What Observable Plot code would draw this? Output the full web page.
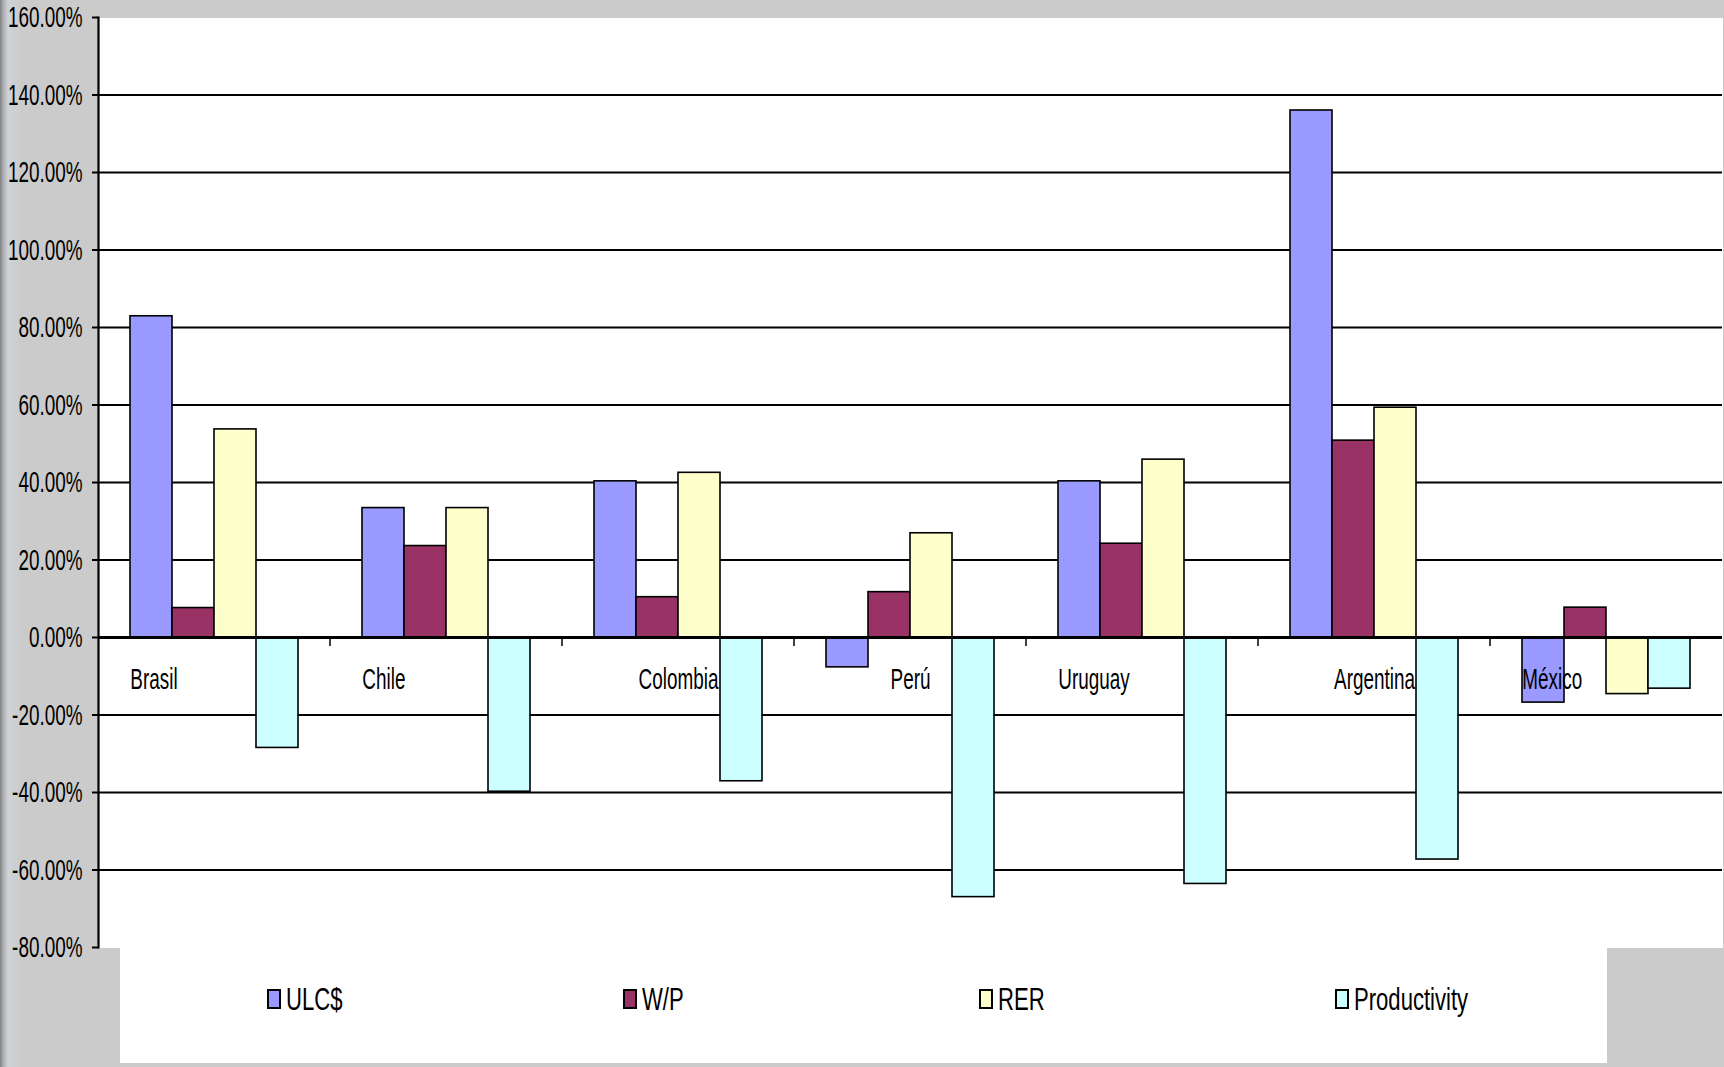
<!DOCTYPE html>
<html>
<head>
<meta charset="utf-8">
<script src="https://cdn.jsdelivr.net/npm/d3@7"></script>
<script src="https://cdn.jsdelivr.net/npm/@observablehq/plot@0.6"></script>
<style>
  html, body { margin: 0; padding: 0; }
  body {
    width: 1724px; height: 1067px; overflow: hidden;
    background: linear-gradient(to right, #7f7f7f 0px, #a8abaf 3px, #cfd3d8 8px, #cbcbcb 22px, #cbcbcb 100%);
    font-family: "Liberation Sans", Arial, sans-serif;
  }
  #chart svg { display: block; overflow: visible; }
  #legend {
    margin-left: 120px; width: 1487px; height: 116px; background: #fff;
    display: flex; align-items: center; padding-left: 147px; padding-bottom: 12px;
    box-sizing: border-box;
  }
  .item { width: 356px; flex: none; display: flex; align-items: center; }
  .swatch { width: 10px; height: 16px; border: 2px solid #000; flex: none; }
  .label {
    display: inline-block; font-size: 32px; color: #000; margin-left: 5px;
    transform: scaleX(0.69); transform-origin: left center; white-space: nowrap;
  }
</style>
</head>
<body>
<div id="chart"></div>
<div id="legend"></div>
<script>
// Countries along the x axis and the four series, in percent change
const countries = ["Brasil", "Chile", "Colombia", "Perú", "Uruguay", "Argentina", "México"];
const seriesNames = ["ULC$", "W/P", "RER", "Productivity"];
const ulc = [82.9, 33.4, 40.3, -7.7, 40.3, 136.0, -16.8];
const wp = [7.6, 23.6, 10.4, 11.7, 24.2, 50.8, 7.7];
const rer = [53.7, 33.4, 42.5, 26.9, 45.9, 59.3, -14.6];
const productivity = [-28.5, -39.8, -37.1, -67.0, -63.6, -57.3, -13.2];
const yTicks = [-80, -60, -40, -20, 0, 20, 40, 60, 80, 100, 120, 140, 160];

const seriesColors = ["#9999ff", "#993366", "#ffffcc", "#ccffff"];
const TEXT_SQUEEZE = 0.63;

const seriesValues = [ulc, wp, rer, productivity];
const rows = countries.flatMap((country, i) =>
  seriesNames.map((series, j) => ({country, series, value: seriesValues[j][i]}))
);

const width = 1724, height = 947;
const marginLeft = 95, marginRight = 0, marginTop = 17, marginBottom = 0;
const groupPadding = 0.75; // outer padding of each country group, in bar widths

// Some category labels sit flush with the group's first bar, the rest are centred
const leftAlignedLabels = new Set(["Brasil", "Chile", "Uruguay", "México"]);
const groupWidth = (width - marginLeft - marginRight) / countries.length;
const barWidth = groupWidth / (seriesNames.length + 2 * groupPadding);

const plot = Plot.plot({
  width, height, marginLeft, marginRight, marginTop, marginBottom,
  style: {
    fontFamily: "'Liberation Sans', Arial, sans-serif",
    fontSize: "30px",
    color: "black",
    background: "transparent",
    overflow: "visible"
  },
  fx: {domain: countries, padding: 0, axis: null, label: null},
  x: {domain: seriesNames, paddingInner: 0, paddingOuter: groupPadding, axis: null, label: null},
  y: {domain: [yTicks[0], yTicks[yTicks.length - 1]], axis: null, label: null},
  color: {domain: seriesNames, range: seriesColors},
  marks: [
    Plot.frame({fill: "white", stroke: "none", shapeRendering: "crispEdges"}),
    Plot.ruleY(yTicks.slice(1, -1).filter((v) => v !== 0), {stroke: "black", strokeWidth: 2.2}),
    Plot.barY(rows, {
      fx: "country", x: "series", y: "value",
      fill: "series", stroke: "black", strokeWidth: 1.6
    }),
    Plot.ruleY([0], {stroke: "black", strokeWidth: 3}),
    Plot.text(countries.filter((c) => !leftAlignedLabels.has(c)), {
      fx: (d) => d, text: (d) => d, y: 0, dy: 42, fill: "black", fontSize: 30
    }),
    Plot.text(countries.filter((c) => leftAlignedLabels.has(c)), {
      fx: (d) => d, x: () => seriesNames[0], text: (d) => d, y: 0,
      dx: -barWidth / 2, dy: 42, textAnchor: "start", fill: "black", fontSize: 30
    }),
    Plot.axisY({
      ticks: yTicks,
      label: null,
      tickFormat: (d) => d.toFixed(2) + "%",
      tickSize: 6, tickPadding: 10,
      stroke: "black", strokeWidth: 2, fill: "black", fontSize: 30
    }),
    Plot.frame({anchor: "left", facetAnchor: "left", stroke: "black", strokeWidth: 2.2})
  ]
});

// Condensed lettering: squeeze each label horizontally around its anchor point.
// Pixel x/y attributes move into the transform; em offsets stay as they are.
const isPixel = (v) => v != null && v !== "" && isFinite(+v);
for (const t of plot.querySelectorAll("text")) {
  const ax = t.getAttribute("x");
  const ay = t.getAttribute("y");
  let x = 0, y = 0;
  if (isPixel(ax)) { x = +ax; t.removeAttribute("x"); }
  if (isPixel(ay)) { y = +ay; t.removeAttribute("y"); }
  const tr = t.getAttribute("transform") || "";
  t.setAttribute("transform", `${tr} translate(${x},${y}) scale(${TEXT_SQUEEZE},1)`);
}

// Short category separators hanging below the zero line
const fxScale = plot.scale("fx");
const yScale = plot.scale("y");
const fxApply = fxScale.apply
  ? (v) => fxScale.apply(v)
  : d3.scaleBand().domain(fxScale.domain).range(fxScale.range).padding(0);
const y0 = yScale.apply(0);
const sep = d3.select(plot).append("g").attr("stroke", "black").attr("stroke-width", 1.5);
for (const c of countries.slice(1)) {
  const xx = fxApply(c);
  sep.append("line").attr("x1", xx).attr("x2", xx).attr("y1", y0).attr("y2", y0 + 9);
}

document.getElementById("chart").appendChild(plot);

// Legend row below the chart
const legend = d3.select("#legend");
seriesNames.forEach((name, i) => {
  const item = legend.append("div").attr("class", "item");
  item.append("div").attr("class", "swatch").style("background", seriesColors[i]);
  item.append("span").attr("class", "label").text(name);
});
</script>
</body>
</html>
